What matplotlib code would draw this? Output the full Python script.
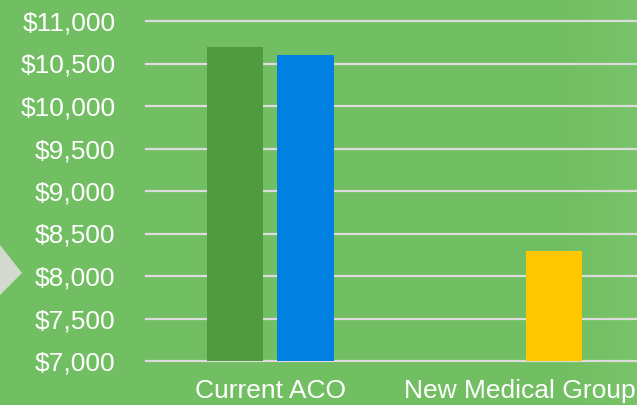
import numpy as np
import matplotlib.pyplot as plt
from matplotlib.patches import Polygon

# data
categories = ['Current ACO', 'New Medical Group']
series_a = [10700, np.nan]          # first bar in each group
series_b = [10600, 8300]            # second bar in each group
colors_a = ['#509B3E', '#509B3E']
colors_b = ['#0080E1', '#FFC700']
y_ticks = [7000, 7500, 8000, 8500, 9000, 9500, 10000, 10500, 11000]

bg = '#72BE62'
plt.rcParams['font.family'] = ['Liberation Sans', 'DejaVu Sans']

fig = plt.figure(figsize=(6.37, 4.05), dpi=100)
fig.patch.set_facecolor(bg)

# slight lighter gradient towards the right edge
grad = fig.add_axes([0, 0, 1, 1], zorder=-5)
g = np.linspace(0, 1, 637)
g = np.clip((g - 0.88) / 0.12, 0, 1)[None, :]
c0 = np.array([114, 190, 98]) / 255
c1 = np.array([121, 196, 106]) / 255
img = c0[None, None, :] * (1 - g[..., None]) + c1[None, None, :] * g[..., None]
grad.imshow(img, aspect='auto', extent=[0, 1, 0, 1])
grad.axis('off')

# arrow tip on the left
fig.patches.append(Polygon([[0, 110 / 405], [22 / 637, 132 / 405], [0, 160 / 405]],
                           closed=True, transform=fig.transFigure,
                           facecolor='#D3D9CF', edgecolor='none'))

ax = fig.add_axes([146 / 637, 44 / 405, 1 - 146 / 637, 340 / 405])
ax.set_facecolor('none')

x = np.arange(len(categories))
w = 0.225
off = 0.1406
ax.bar(x - off, series_a, width=w, color=colors_a, zorder=3)
ax.bar(x + off, series_b, width=w, color=colors_b, zorder=3)

ax.set_ylim(7000, 11000)
ax.set_xlim(-0.5, 1.472)
ax.set_yticks(y_ticks)
ax.set_yticklabels(['${:,}'.format(v) for v in y_ticks])
ax.set_xticks(x)
ax.set_xticklabels(categories)

for v in y_ticks:
    ax.axhline(v, color='#DCDCDC', linewidth=1.6, zorder=1, clip_on=False)

for s in ax.spines.values():
    s.set_visible(False)
ax.tick_params(axis='y', length=0, pad=22, labelsize=19, labelcolor='white')
ax.tick_params(axis='x', length=0, pad=13, labelsize=19, labelcolor='white')

fig.savefig('out.png', dpi=100, facecolor=bg)
